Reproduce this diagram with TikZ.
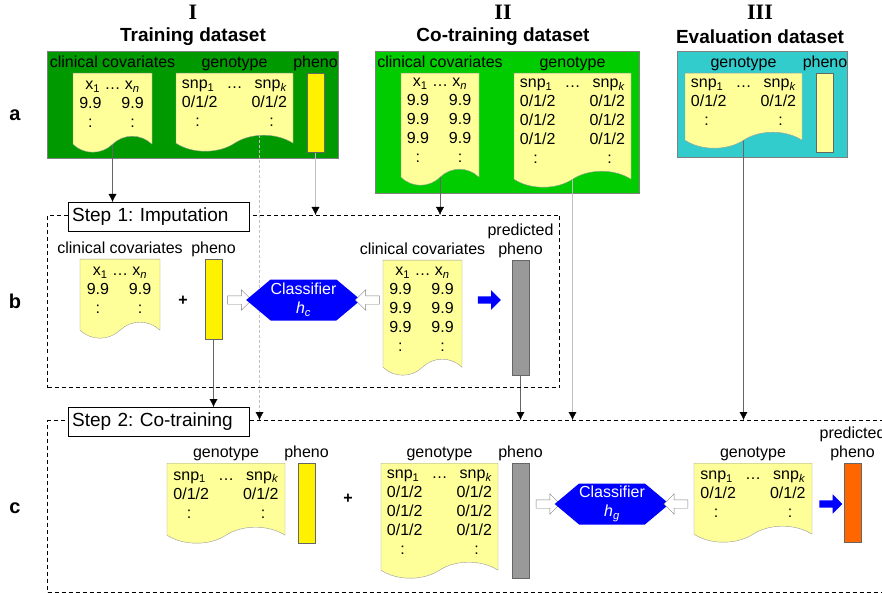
\documentclass[tikz,border=0pt]{standalone}
\usepackage{fontspec}
\setmainfont{Liberation Sans}
\newfontfamily\romanfont{Liberation Serif}
\usetikzlibrary{arrows.meta,positioning,shapes.symbols,shapes.arrows,backgrounds}

\definecolor{traingreen}{HTML}{009900}
\definecolor{cotraingreen}{HTML}{00CC00}
\definecolor{evalteal}{HTML}{33CCCC}
\definecolor{docyellow}{HTML}{FFFF99}
\definecolor{predorange}{HTML}{FF6600}

\newcommand{\clinrow}{9.9 & 9.9\\}
\newcommand{\genorow}{0/1/2 & & 0/1/2\\}
\newcommand{\clintab}[1]{\begin{tabular}{@{}c@{\hspace{18pt}}c@{}}
  \multicolumn{2}{c}{x\textsubscript{1} \dots\ x\textsubscript{\textit{n}}}\\
  #1: & :\end{tabular}}
\newcommand{\genotab}[1]{\begin{tabular}{@{}l@{\hspace{9pt}}c@{\hspace{9pt}}r@{}}
  snp\textsubscript{1} & \dots & snp\textsubscript{\textit{k}}\\
  #1\phantom{0/}: & & :\phantom{/2}\end{tabular}}

\begin{document}
\frenchspacing
\begin{tikzpicture}[
    x=1pt, y=-1pt,
    every node/.style={inner sep=0pt, font=\fontsize{16}{19}\selectfont},
    dataset/.style={draw=gray, anchor=north west},
    doc/.style={tape, tape bend top=none, tape bend bottom=in and out, tape bend height=16pt,
        draw=gray!80, fill=docyellow, anchor=north},
    bar/.style={draw=gray!80!black, minimum width=17pt, anchor=north},
    lbl/.style={text height=12pt, text depth=3.5pt, align=center},
    dstitle/.style={font=\fontsize{19}{22}\selectfont\bfseries},
    numeral/.style={font=\fontsize{22}{24}\selectfont\bfseries\romanfont},
    rowlbl/.style={font=\fontsize{20}{22}\selectfont\bfseries},
    stepframe/.style={draw, dash pattern=on 4pt off 3pt, line width=1pt, anchor=north west},
    stepbox/.style={draw, fill=white, anchor=north west, font=\fontsize{19}{22}\selectfont,
        minimum height=29pt, text width=173pt, inner xsep=4pt, align=left},
    classifier/.style={signal, signal to=west and east, signal pointer angle=80, fill=blue,
        text=white, minimum width=104pt, minimum height=41pt, align=center},
    hollow/.style={single arrow, draw=gray, fill=white, minimum height=24pt, inner sep=4pt,
        single arrow head extend=6pt},
    push/.style={single arrow, fill=blue, minimum height=23pt, inner sep=3.5pt,
        single arrow head extend=6pt},
    arr/.style={draw=gray!80!black, -{Latex[color=black, length=8pt, width=8pt]}},
    larr/.style={arr, draw=gray!50},
    darr/.style={arr, draw=gray!50, dash pattern=on 3pt off 2pt},
]
\useasboundingbox (0,0) rectangle (882,593);

% Dataset boxes
\begin{pgfonlayer}{background}
\node (dI) [dataset, fill=traingreen, minimum width=291pt, minimum height=107pt] at (47,51) {};
\node (dII) [dataset, fill=cotraingreen, minimum width=264pt, minimum height=142pt] at (375,51) {};
\node (dIII) [dataset, fill=evalteal, minimum width=170pt, minimum height=106pt] at (677,51) {};
\end{pgfonlayer}

\node (nI) [numeral] at (193,12) {I};
\node (tI) [dstitle] at (193,37) {Training dataset};
\node (nII) [numeral] at (503,12) {II};
\node (tII) [dstitle] at (503,37) {Co-training dataset};
\node (nIII) [numeral] at (760,12) {III};
\node (tIII) [dstitle] at (760,37) {Evaluation dataset};

\node (ra) [rowlbl] at (15,115) {a};
\node (rb) [rowlbl] at (15,301) {b};
\node (rc) [rowlbl] at (15,508) {c};

% I: training
\node (cI) [doc, minimum width=79pt, minimum height=79pt] at (112.5,73) {\clintab{\clinrow}};
\node (gI) [doc, minimum width=117pt, minimum height=78pt] at (234.5,73) {\genotab{\genorow}};
\node (pI) [bar, fill=yellow, minimum height=79pt] at (315.5,73) {};
\node (cIl) [lbl, above=2pt of cI] {clinical covariates};
\node (gIl) [lbl, above=2pt of gI] {genotype};
\node (pIl) [lbl, above=2pt of pI] {pheno};

% II: co-training
\node (cII) [doc, minimum width=78pt, minimum height=112pt] at (440,73) {\clintab{\clinrow\clinrow\clinrow}};
\node (gII) [doc, minimum width=117pt, minimum height=114pt] at (572.5,73) {\genotab{\genorow\genorow\genorow}};
\node (cIIl) [lbl, above=2pt of cII] {clinical covariates};
\node (gIIl) [lbl, above=2pt of gII] {genotype};

% III: evaluation
\node (gIII) [doc, minimum width=117pt, minimum height=75pt] at (743.5,73) {\genotab{\genorow}};
\node (pIII) [bar, fill=docyellow, minimum height=79pt] at (825,73) {};
\node (gIIIl) [lbl, above=2pt of gIII] {genotype};
\node (pIIIl) [lbl, above=2pt of pIII] {pheno};

% Step 1
\node (fb) [stepframe, minimum width=512pt, minimum height=172pt] at (47,215) {};
\node (s1) [stepbox] at (68,202) {Step 1: Imputation};
\node (cb) [doc, minimum width=80pt, minimum height=79pt] at (120,259) {\clintab{\clinrow}};
\node (plus1) [font=\fontsize{16}{19}\selectfont\bfseries] at (183,301) {+};
\node (pb) [bar, fill=yellow, minimum height=80pt] at (213.5,259) {};
\node (hol1) [hollow] at (237.5,300) {};
\node (clc) [classifier] at (303.5,300) {Classifier\\\textit{h}\textsubscript{\textit{c}}};
\node (hol2) [hollow, shape border rotate=180] at (369.5,300) {};
\node (cb2) [doc, minimum width=79pt, minimum height=115pt] at (422.5,260) {\clintab{\clinrow\clinrow\clinrow}};
\node (blue1) [push] at (487.5,300) {};
\node (gb) [bar, fill=gray!80, minimum height=115pt] at (520.5,260) {};
\node (cbl) [lbl, above=2pt of cb] {clinical covariates};
\node (pbl) [lbl, above=2pt of pb] {pheno};
\node (cb2l) [lbl, above=2pt of cb2] {clinical covariates};
\node (gbl) [lbl, above=2pt of gb] {predicted\\pheno};

% Step 2
\node (fc) [stepframe, minimum width=850pt, minimum height=172pt] at (47,420) {};
\node (s2) [stepbox] at (68,407) {Step 2: Co-training};
\node (gc1) [doc, minimum width=118pt, minimum height=80pt] at (226,463) {\genotab{\genorow}};
\node (pc) [bar, fill=yellow, minimum height=80pt] at (306.5,463) {};
\node (plus2) [font=\fontsize{16}{19}\selectfont\bfseries] at (348,499) {+};
\node (gc2) [doc, minimum width=117pt, minimum height=115pt] at (439.5,463) {\genotab{\genorow\genorow\genorow}};
\node (gc) [bar, fill=gray!80, minimum height=115pt] at (520.5,463) {};
\node (hol3) [hollow] at (546,504) {};
\node (clg) [classifier] at (612,504) {Classifier\\\textit{h}\textsubscript{\textit{g}}};
\node (hol4) [hollow, shape border rotate=180] at (678,504) {};
\node (ge) [doc, minimum width=118pt, minimum height=79pt] at (753,463) {\genotab{\genorow}};
\node (blue2) [push] at (829,504) {};
\node (po) [bar, fill=predorange, minimum height=79pt] at (852.5,463) {};
\node (gc1l) [lbl, above=2pt of gc1] {genotype};
\node (pcl) [lbl, above=2pt of pc] {pheno};
\node (gc2l) [lbl, above=2pt of gc2] {genotype};
\node (gcl) [lbl, above=2pt of gc] {pheno};
\node (gel) [lbl, above=2pt of ge] {genotype};
\node (pol) [lbl, above=2pt of po] {predicted\\pheno};

% Connectors
\begin{pgfonlayer}{background}
\draw[arr] (cI.south) -- (cI.south |- s1.north);
\draw[larr] (pI.south) -- (pI.south |- fb.north);
\draw[arr] (cII.south) -- (cII.south |- fb.north);
\draw[darr] ([xshift=25pt]gI.south) -- ([xshift=25pt]gI.south |- fc.north);
\draw[arr] (pb.south) -- (pb.south |- s2.north);
\draw[arr] (gb.south) -- (gb.south |- fc.north);
\draw[larr] (gII.south) -- (gII.south |- fc.north);
\draw[arr] (gIII.south) -- (gIII.south |- fc.north);
\end{pgfonlayer}
\end{tikzpicture}
\end{document}
